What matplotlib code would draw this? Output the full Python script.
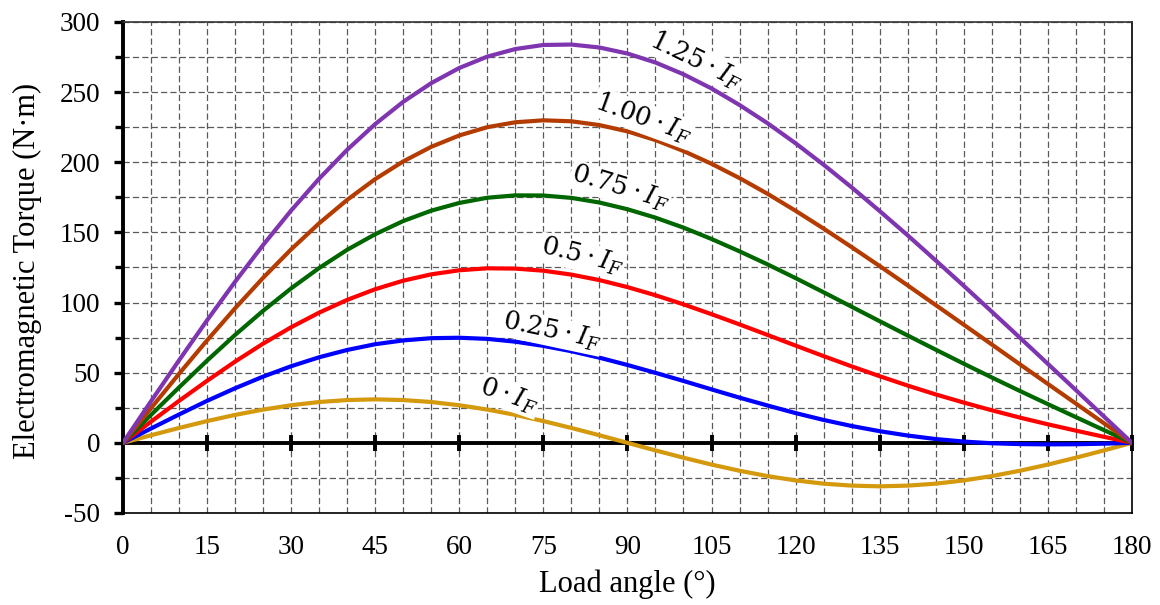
import matplotlib
matplotlib.use("Agg")
import matplotlib.pyplot as plt

# load angle in degrees, 5 deg steps
angle = list(range(0, 181, 5))

# torque (N·m) for each field current
t_000 = [0, 5.4, 10.6, 15.5, 19.9, 23.7, 26.8, 29.1, 30.5, 31.0, 30.5, 29.1, 26.8, 23.7, 19.9, 15.5, 10.6, 5.4, 0,
         -5.4, -10.6, -15.5, -19.9, -23.7, -26.8, -29.1, -30.5, -31.0, -30.5, -29.1, -26.8, -23.7, -19.9, -15.5, -10.6, -5.4, 0]
t_025 = [0, 10.2, 20.2, 29.9, 38.9, 47.2, 54.6, 61.0, 66.2, 70.3, 73.0, 74.6, 74.9, 74.1, 72.1, 69.1, 65.3, 60.7, 55.5,
         49.9, 44.1, 38.1, 32.2, 26.6, 21.2, 16.3, 12.0, 8.3, 5.2, 2.7, 0.9, -0.3, -0.9, -1.1, -1.0, -0.6, 0]
t_050 = [0, 15.1, 29.9, 44.2, 57.9, 70.7, 82.4, 92.8, 101.9, 109.5, 115.6, 120.1, 123.0, 124.4, 124.2, 122.7, 119.9, 116.0, 111.0,
         105.2, 98.7, 91.7, 84.4, 76.9, 69.3, 61.8, 54.5, 47.5, 40.8, 34.5, 28.7, 23.2, 18.0, 13.2, 8.7, 4.3, 0]
t_075 = [0, 19.9, 39.5, 58.6, 76.9, 94.1, 110.1, 124.6, 137.6, 148.7, 158.1, 165.5, 171.0, 174.7, 176.4, 176.3, 174.6, 171.3, 166.5,
         160.5, 153.4, 145.3, 136.5, 127.2, 117.4, 107.3, 97.0, 86.7, 76.5, 66.4, 56.4, 46.6, 37.0, 27.6, 18.3, 9.1, 0]
t_100 = [0, 24.7, 49.2, 73.0, 95.9, 117.6, 137.9, 156.5, 173.2, 188.0, 200.6, 211.0, 219.1, 225.0, 228.5, 229.9, 229.2, 226.5, 222.0,
         215.8, 208.0, 198.9, 188.7, 177.5, 165.4, 152.7, 139.5, 126.0, 112.2, 98.2, 84.2, 70.1, 56.0, 42.0, 28.0, 14.0, 0]
t_125 = [0, 29.6, 58.8, 87.3, 114.8, 141.0, 165.6, 188.3, 208.9, 227.2, 243.1, 256.4, 267.2, 275.3, 280.7, 283.6, 283.9, 281.8, 277.5,
         271.1, 262.7, 252.6, 240.8, 227.8, 213.5, 198.2, 182.1, 165.2, 147.9, 130.0, 111.9, 93.5, 75.0, 56.3, 37.6, 18.8, 0]

labels = [r'$0\cdot I_F$', r'$0.25\cdot I_F$', r'$0.5\cdot I_F$',
          r'$0.75\cdot I_F$', r'$1.00\cdot I_F$', r'$1.25\cdot I_F$']
colors = ['#D4990C', '#0000FF', '#FF0000', '#006600', '#B43C00', '#7F35B0']
curves = [t_000, t_025, t_050, t_075, t_100, t_125]

# where the curve names sit (x, y, rotation)
label_pos = [(68.9, 33.7, -19), (76.5, 79.3, -12), (81.9, 132.8, -14),
             (88.7, 181.5, -17), (92.8, 231.4, -20), (102.3, 272.5, -26)]

x_major = list(range(0, 181, 15))
x_minor = list(range(0, 181, 5))
y_major = list(range(-50, 301, 50))
y_minor = list(range(-25, 300, 50))

plt.rcParams['font.family'] = ['Liberation Serif', 'DejaVu Serif']
plt.rcParams['mathtext.fontset'] = 'dejavuserif'
plt.rcParams['axes.unicode_minus'] = False

fig = plt.figure(figsize=(11.6, 6.05), dpi=100)
ax = fig.add_axes([0.1060, 0.1521, 0.8698, 0.8116])

ax.set_xlim(0, 180)
ax.set_ylim(-50, 300)
ax.set_xticks(x_major)
ax.set_xticks(x_minor, minor=True)
ax.set_yticks(y_major)
ax.set_yticks(y_minor, minor=True)

ax.grid(which='both', color='#5a5a5a', linestyle=(0, (5, 2.5)), linewidth=0.9)
ax.set_axisbelow(True)

ax.tick_params(axis='x', which='both', length=0, labelsize=19.5, pad=16)
ax.tick_params(axis='y', which='major', direction='out', length=6.5, width=2.4,
               labelsize=19.5, pad=10)
ax.tick_params(axis='y', which='minor', direction='out', length=5.5, width=2.4)

ax.spines['left'].set_linewidth(2.8)
for s in ['bottom', 'right', 'top']:
    ax.spines[s].set_linewidth(1.2)
    ax.spines[s].set_color('black')
ax.spines['top'].set_color('#333333')

# zero line with its own tick bars
ax.axhline(0, color='black', linewidth=2.8, zorder=1.5)
ax.plot(x_major[1:], [0] * len(x_major[1:]), linestyle='none', marker='|',
        markersize=11.5, markeredgewidth=2.8, color='black', zorder=1.6, clip_on=False)

for i, (vals, col) in enumerate(zip(curves, colors)):
    ax.plot(angle, vals, color=col, linewidth=3.0, zorder=3 + i,
            solid_capstyle='round', solid_joinstyle='round')

for lab, (lx, ly, rot) in zip(labels, label_pos):
    ax.text(lx, ly, lab, rotation=rot, rotation_mode='anchor', ha='center', va='center',
            fontsize=18.5, zorder=10,
            bbox=dict(facecolor='white', edgecolor='none', pad=1))

ax.set_xlabel('Load angle (°)', fontsize=22)
ax.set_ylabel('Electromagnetic Torque (N·m)', fontsize=22)
ax.xaxis.set_label_coords(0.5, -0.116)
ax.yaxis.set_label_coords(-0.080, 0.493)

fig.savefig('out.png', dpi=100)
